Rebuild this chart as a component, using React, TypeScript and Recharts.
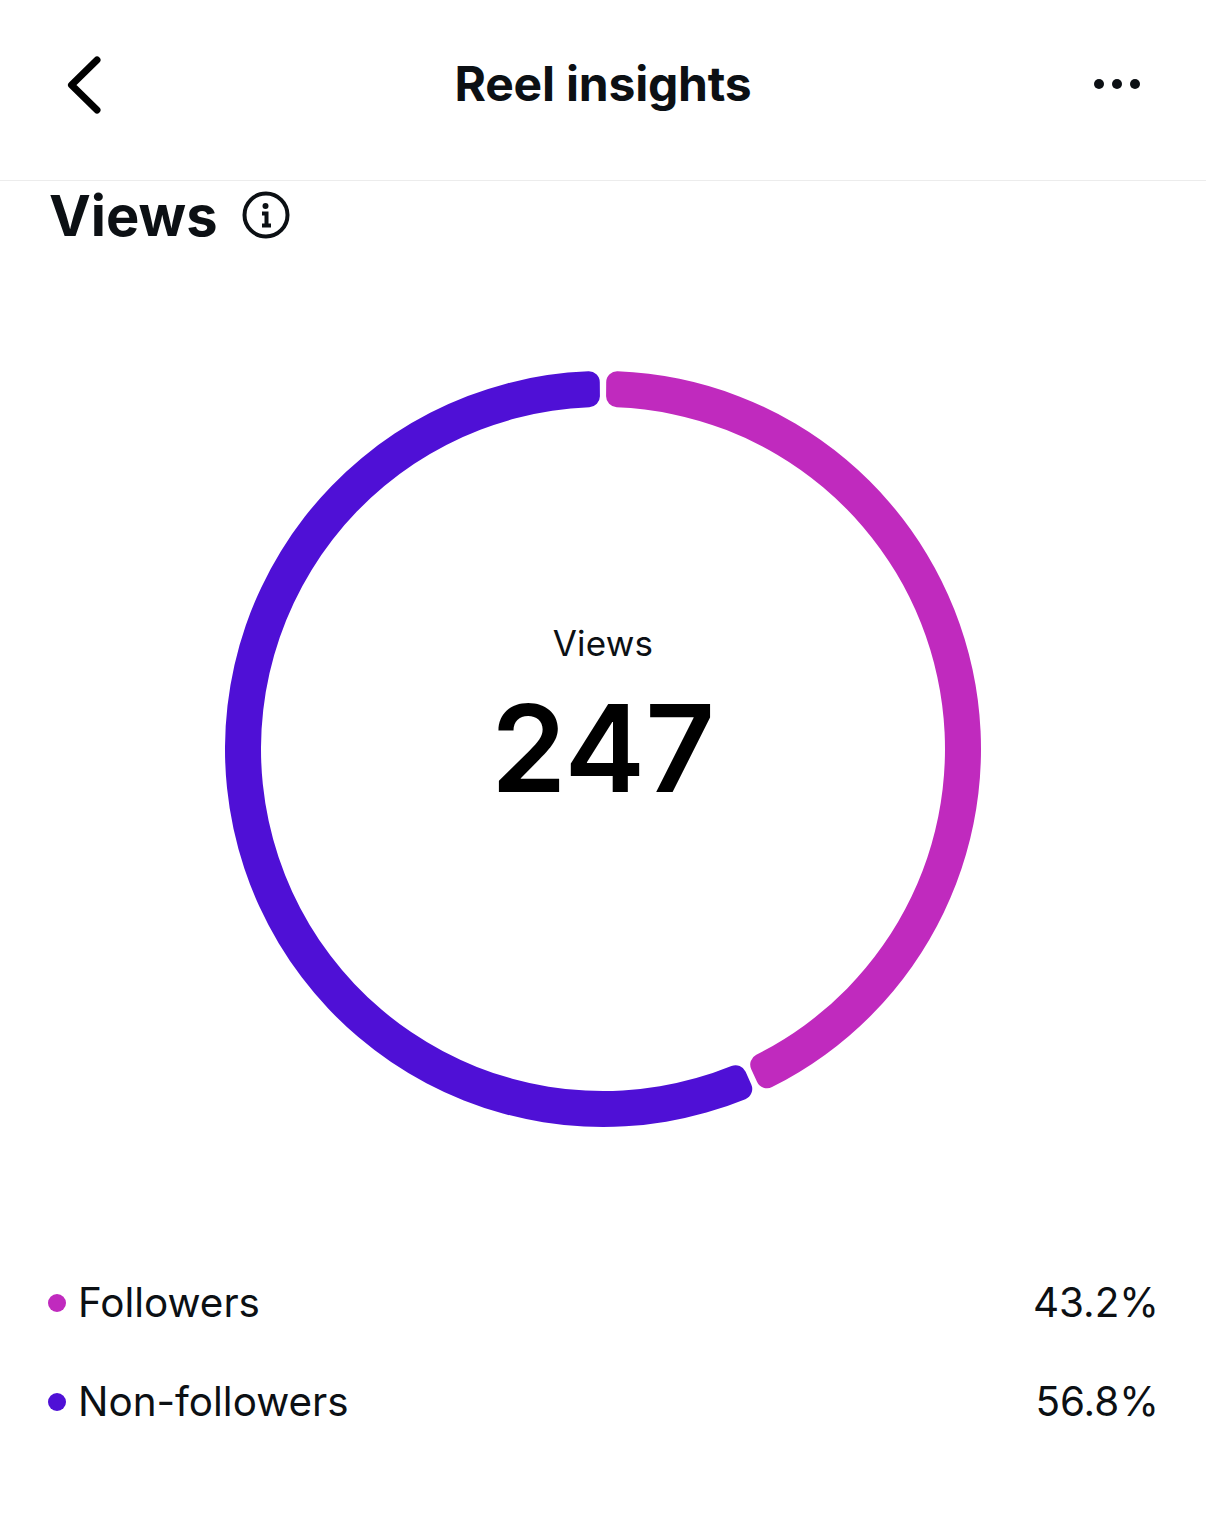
import React from "react";
import { PieChart, Pie, Cell } from "recharts";

const segmentNames = ["Followers", "Non-followers"];
const segmentValues = [43.2, 56.8];
const segmentColors = ["#C02ABE", "#4F10D6"];
const percentLabels = ["43.2%", "56.8%"];
const totalViews = "247";

const font = 'Inter, "Open Sans", "Liberation Sans", sans-serif';
const data = segmentNames.map((name, i) => ({ name, value: segmentValues[i] }));

const abs = (x: number, y: number, extra: React.CSSProperties = {}): React.CSSProperties => ({
  position: "absolute", left: x, top: y, whiteSpace: "nowrap", color: "#0c1014", fontFamily: font, ...extra,
});

export default function App() {
  return (
    <div style={{ position: "absolute", left: 0, top: 0, width: 1206, height: 1518, background: "#fff", overflow: "hidden" }}>
      <svg width={1206} height={260} style={{ position: "absolute", left: 0, top: 0 }}>
        <path d="M97 60 L71.5 85 L97 110" fill="none" stroke="#000" strokeWidth={7} strokeLinecap="round" strokeLinejoin="round" />
        <circle cx={1099} cy={84} r={5} fill="#0c1014" />
        <circle cx={1117} cy={84} r={5} fill="#0c1014" />
        <circle cx={1135} cy={84} r={5} fill="#0c1014" />
        <line x1={0} x2={1206} y1={180.5} y2={180.5} stroke="#ececec" />
        <circle cx={266} cy={215} r={21.5} fill="none" stroke="#0c1014" strokeWidth={4} />
        <circle cx={265.5} cy={206} r={3} fill="#0c1014" />
        <path d="M262 213.5 H266.5 V225 M262 225.5 H271" fill="none" stroke="#0c1014" strokeWidth={4} />
      </svg>
      <div style={abs(0, 56, { width: 1206, textAlign: "center", fontSize: 48, fontWeight: 700, letterSpacing: -0.2, lineHeight: "56px" })}>Reel insights</div>
      <div style={abs(49, 180, { fontSize: 56, fontWeight: 700, lineHeight: "72px" })}>Views</div>

      <div style={{ position: "absolute", left: 203, top: 349 }}>
        <PieChart width={800} height={800} margin={{ top: 0, right: 0, bottom: 0, left: 0 }}>
          <Pie data={data} dataKey="value" nameKey="name" cx={400} cy={400} innerRadius={342} outerRadius={378}
            startAngle={89.5} endAngle={-270.5} paddingAngle={1} cornerRadius={11} stroke="none" isAnimationActive={false}>
            {data.map((d, i) => <Cell key={d.name} fill={segmentColors[i]} />)}
          </Pie>
        </PieChart>
      </div>

      <div style={abs(0, 621, { width: 1206, textAlign: "center", fontSize: 35, lineHeight: "44px", letterSpacing: 0.2 })}>Views</div>
      <div style={abs(0, 680, { width: 1206, textAlign: "center", fontSize: 121, fontWeight: 600, lineHeight: "136px", color: "#000" })}>{totalViews}</div>

      {segmentNames.map((name, i) => {
        const y = [1303, 1402][i];
        return (
          <React.Fragment key={name}>
            <div style={{ position: "absolute", left: 48, top: y - 9, width: 18, height: 18, borderRadius: 9, background: segmentColors[i] }} />
            <div style={abs(78, y - 25, { fontSize: 40.4, lineHeight: "50px" })}>{name}</div>
            <div style={abs(0, y - 25, { width: 1159, textAlign: "right", fontSize: 40.4, lineHeight: "50px" })}>{percentLabels[i]}</div>
          </React.Fragment>
        );
      })}
    </div>
  );
}
